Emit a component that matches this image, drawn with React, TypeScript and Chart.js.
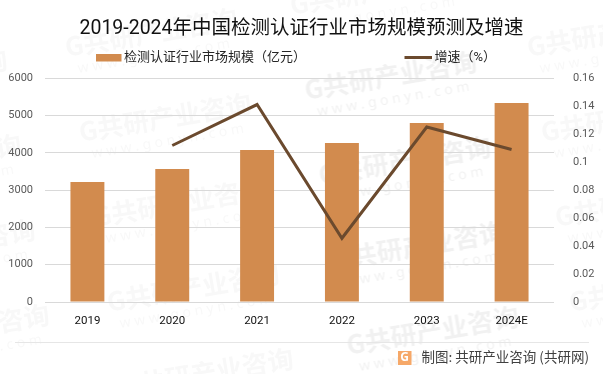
import React, { useEffect, useRef } from "react";
import { Chart, registerables } from "chart.js";

Chart.register(...registerables);

const categories = ["2019", "2020", "2021", "2022", "2023", "2024E"];
const marketSize = [3222, 3570, 4080, 4267, 4802, 5338];
const growth = [null, 0.112, 0.1413, 0.0456, 0.1252, 0.1091];
const titleText = "2019-2024年中国检测认证行业市场规模预测及增速";
const barLabel = "检测认证行业市场规模（亿元）";
const lineLabel = "增速（%）";
const footerText = "制图: 共研产业咨询 (共研网)";
const wmBrand = "G共研产业咨询";
const wmSite = "w w w . g o n y n . c o m";
const wmColumns = [
  [-165, 88], [65, 47], [290, 5], [305, 90], [527, 47],
];
const wmRows = [0, 1, 2, 3, 4];

const FONT = 'Roboto,"Noto Sans CJK SC",sans-serif';
const CJK = '"Noto Sans CJK SC",sans-serif';
const BAR = "#d28b4e";
const LINE = "#6b4a2e";

const overlay = {
  id: "overlay",
  beforeDraw(chart: any) {
    const c = chart.ctx;
    c.save();
    c.textAlign = "left";
    c.textBaseline = "middle";
    for (const [x0, y0] of wmColumns) {
      for (const r of wmRows) {
        c.save();
        c.translate(x0 + r * 14, y0 + r * 85);
        c.rotate(-0.167);
        c.fillStyle = "rgba(110,110,110,0.05)";
        c.font = `700 26px ${CJK}`;
        c.fillText(wmBrand, 0, 0);
        c.font = `14px "Noto Sans"`;
        c.fillText(wmSite, 9, 24);
        c.restore();
      }
    }
    c.restore();
  },
  afterDraw(chart: any) {
    const c = chart.ctx;
    c.save();
    c.textBaseline = "middle";
    c.textAlign = "left";
    // legend
    c.font = `13px ${FONT}`;
    c.fillStyle = BAR;
    c.fillRect(96, 54, 25.5, 7.5);
    c.fillStyle = "#262626";
    c.fillText(barLabel, 124, 58);
    c.strokeStyle = LINE;
    c.lineWidth = 3;
    c.beginPath();
    c.moveTo(404.5, 57.5);
    c.lineTo(432, 57.5);
    c.stroke();
    c.fillText(lineLabel, 434.5, 58);
    // footer
    c.strokeStyle = "#e6e6e6";
    c.lineWidth = 1;
    c.beginPath();
    c.moveTo(15, 342.5);
    c.lineTo(589, 342.5);
    c.stroke();
    c.fillStyle = "#f6a868";
    c.fillRect(398, 351, 13.5, 14);
    c.fillStyle = "#ffffff";
    c.font = 'bold 12px "Noto Sans"';
    c.textAlign = "center";
    c.fillText("G", 404.7, 358);
    c.fillStyle = "#404040";
    c.font = `13.5px ${CJK}`;
    c.textAlign = "right";
    c.fillText(footerText, 589, 357);
    c.restore();
  },
};

export default function App() {
  const ref = useRef<HTMLCanvasElement>(null);
  useEffect(() => {
    document.body.style.margin = "0";
    const chart = new Chart(ref.current!, {
      type: "bar",
      data: {
        labels: categories,
        datasets: [
          {
            type: "line",
            label: lineLabel,
            data: growth,
            yAxisID: "y1",
            borderColor: LINE,
            backgroundColor: LINE,
            borderWidth: 3,
            pointRadius: 0,
            tension: 0,
            order: 1,
          },
          {
            type: "bar",
            label: barLabel,
            data: marketSize,
            yAxisID: "y",
            backgroundColor: BAR,
            categoryPercentage: 0.4,
            barPercentage: 1,
            order: 2,
          },
        ],
      } as any,
      options: {
        responsive: false,
        animation: false,
        layout: { padding: 0 },
        plugins: {
          tooltip: { enabled: false },
          legend: { display: false },
          title: {
            display: true,
            text: titleText,
            color: "#111111",
            font: { family: FONT, size: 19.5, weight: "normal" },
            padding: { top: 17, bottom: 38 },
          },
        },
        scales: {
          x: {
            grid: { display: false },
            border: { display: false },
            ticks: { color: "#111111", font: { family: FONT, size: 11.5 }, padding: 4, maxRotation: 0 },
            afterFit: (s: any) => { s.height = 72; },
          },
          y: {
            min: 0,
            max: 6000,
            grid: { color: "#d9d9d9", drawTicks: false },
            border: { display: false },
            ticks: { stepSize: 1000, color: "#595959", font: { family: FONT, size: 11 }, padding: 12, callback: (v: any) => String(v) },
            afterFit: (s: any) => { s.width = 45; },
          },
          y1: {
            position: "right",
            min: 0,
            max: 0.16,
            grid: { display: false },
            border: { display: false },
            ticks: {
              stepSize: 0.02,
              color: "#595959",
              font: { family: FONT, size: 11 },
              padding: 11,
              callback: (v: any) => String(+Number(v).toFixed(2)),
            },
            afterFit: (s: any) => { s.width = 49; },
          },
        },
      } as any,
      plugins: [overlay],
    });
    return () => chart.destroy();
  }, []);
  return <canvas ref={ref} width={603} height={374} style={{ display: "block" }} />;
}
